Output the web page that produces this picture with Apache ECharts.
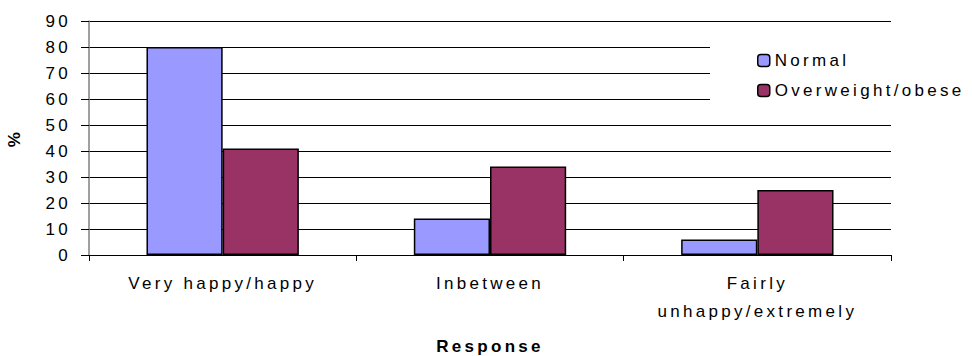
<!DOCTYPE html>
<html>
<head>
<meta charset="utf-8">
<script src="https://cdn.jsdelivr.net/npm/echarts@6/dist/echarts.min.js"></script>
<style>
  html, body { margin: 0; padding: 0; background: #fff; }
  #chart { width: 972px; height: 356px; }
  /* wide tracking on every label, as in the original spreadsheet chart */
  #chart svg text { letter-spacing: 3.3px; }
</style>
</head>
<body>
<div id="chart"></div>
<script>
// Response categories (bottom axis)
const categories = ['Very happy/happy', 'Inbetween', 'Fairly\nunhappy/extremely'];
// Percentage of respondents per response
const normal = [80, 14, 6];
const overweight = [41, 34, 25];
// Value axis ticks
const yTicks = [0, 10, 20, 30, 40, 50, 60, 70, 80, 90];
const seriesNames = ['Normal', 'Overweight/obese'];

const font = 'Liberation Sans, Arial, sans-serif';
const fs = 17;
const chart = echarts.init(document.getElementById('chart'), null, { renderer: 'svg' });

chart.setOption({
  animation: false,
  backgroundColor: '#fff',
  textStyle: { fontFamily: font, color: '#000' },
  grid: {
    left: 89, right: 81, top: 21, bottom: 101,
    containLabel: false,
    outerBoundsMode: 'none'
  },
  legend: {
    data: seriesNames,
    orient: 'vertical',
    left: 710,
    top: 40,
    padding: [12, 20, 12, 47],
    itemGap: 13,
    itemWidth: 12,
    itemHeight: 12,
    backgroundColor: '#fff',
    z: 20,
    textStyle: { fontFamily: font, fontSize: fs, color: '#000' },
    itemStyle: { borderColor: '#000', borderWidth: 1.5 }
  },
  xAxis: {
    type: 'category',
    data: categories,
    name: 'Response',
    nameLocation: 'middle',
    nameGap: 83,
    nameTextStyle: { fontFamily: font, fontSize: fs, fontWeight: 'bold', color: '#000' },
    axisLine: { lineStyle: { color: '#000', width: 1 } },
    axisTick: { show: true, length: 6, interval: 0, lineStyle: { color: '#000' } },
    axisLabel: {
      interval: 0,
      margin: 14,
      lineHeight: 28,
      fontFamily: font,
      fontSize: fs,
      color: '#000'
    }
  },
  yAxis: {
    type: 'value',
    min: yTicks[0],
    max: yTicks[yTicks.length - 1],
    interval: yTicks[1] - yTicks[0],
    name: '%',
    nameLocation: 'middle',
    nameRotate: 90,
    nameGap: 66,
    nameTextStyle: { fontFamily: font, fontSize: fs, fontWeight: 'bold', color: '#000' },
    axisLine: { show: true, lineStyle: { color: '#808080', width: 1.5 } },
    axisTick: { show: true, length: 8, lineStyle: { color: '#000' } },
    axisLabel: { margin: 18, fontFamily: font, fontSize: fs, color: '#000' },
    splitLine: { show: true, lineStyle: { color: '#000', width: 1 } }
  },
  series: [
    {
      name: seriesNames[0],
      type: 'bar',
      data: normal,
      barGap: '0%',
      barCategoryGap: '43%',
      itemStyle: { color: '#9999FF', borderColor: '#000', borderWidth: 1.5 }
    },
    {
      name: seriesNames[1],
      type: 'bar',
      data: overweight,
      itemStyle: { color: '#993366', borderColor: '#000', borderWidth: 1.5 }
    }
  ]
});
</script>
</body>
</html>
